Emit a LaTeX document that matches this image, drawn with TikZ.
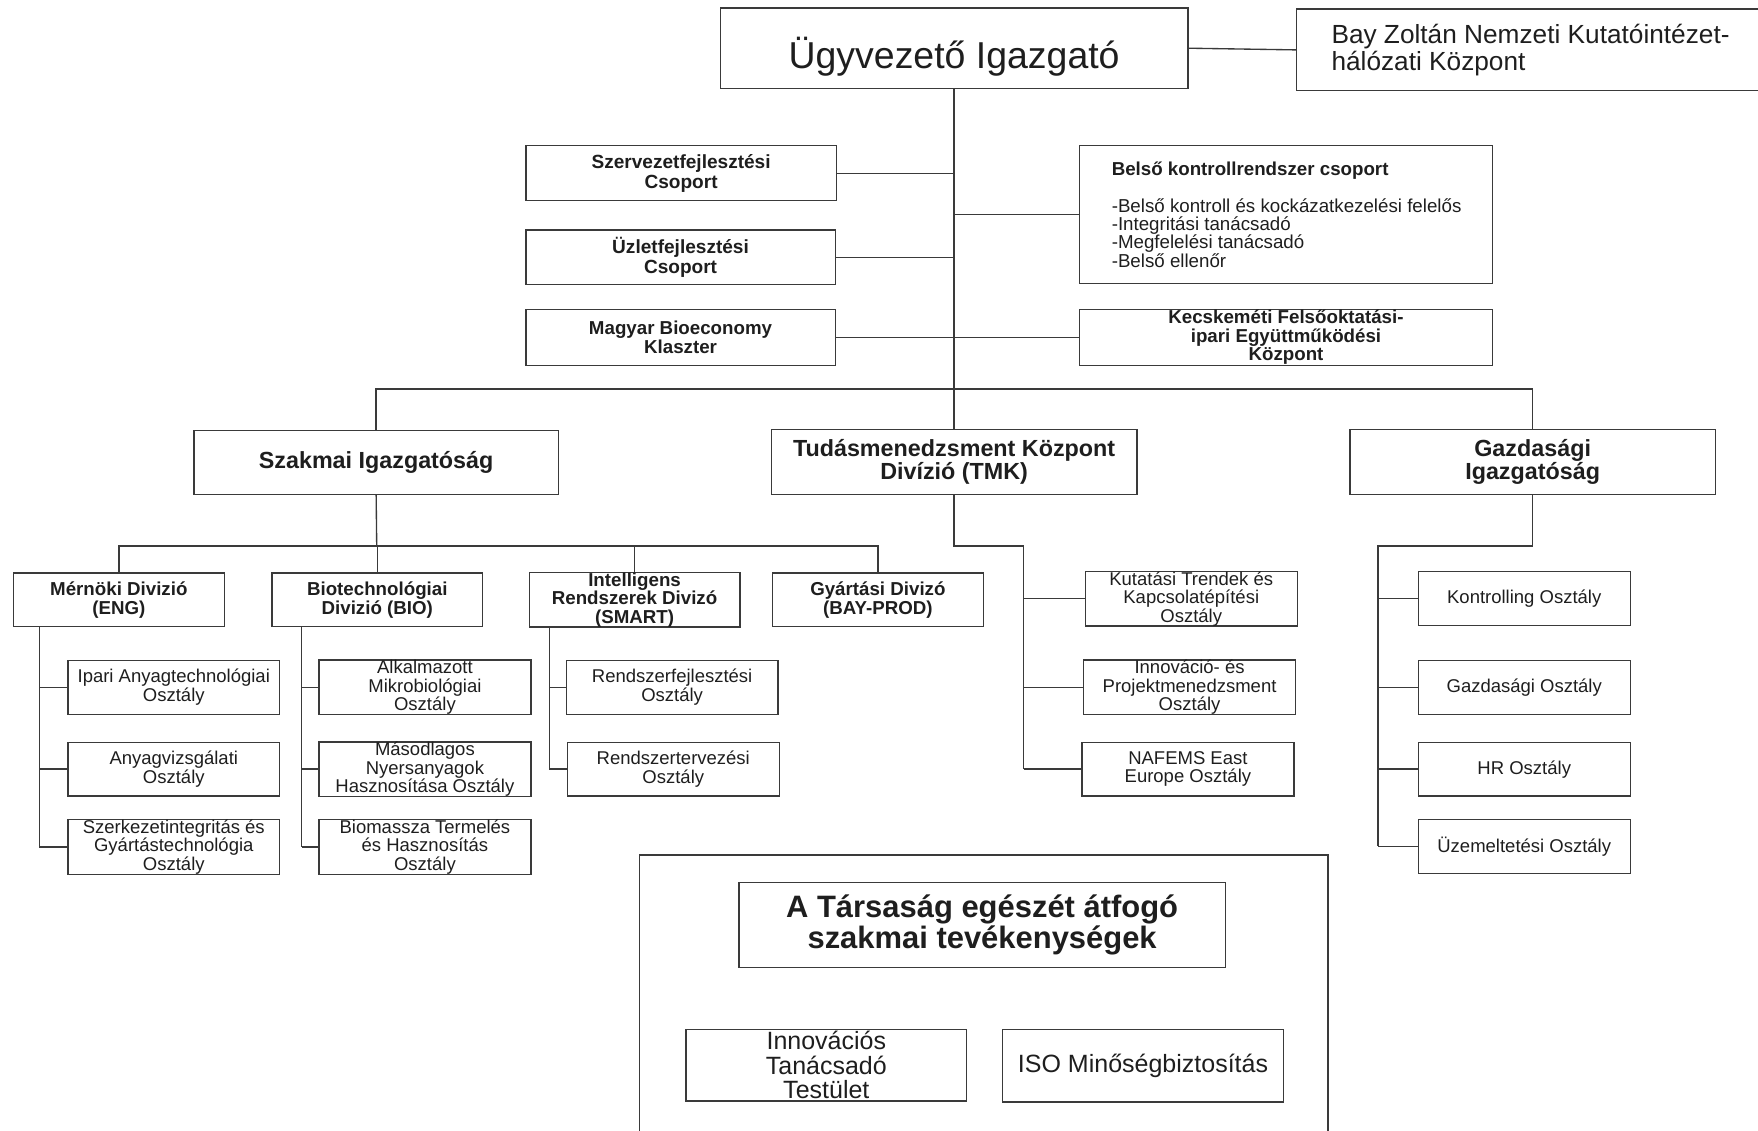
\documentclass[tikz,border=0pt]{standalone}
\usepackage{fontspec}
\setmainfont{Liberation Sans}
\definecolor{linegray}{HTML}{3A3A3A}
\definecolor{textgray}{HTML}{1E1E1E}

\begin{document}
\begin{tikzpicture}
		[x=1pt, y=-1pt, color=linegray, line width=1.2pt,
		every node/.style={text=textgray, inner sep=0pt, align=center},
		box/.style={draw=linegray, line width=1.2pt},
		wh/.style 2 args={minimum width=#1pt, minimum height=#2pt},
		grouptext/.style={font=\fontsize{17}{18}\selectfont\bfseries},
		leveltext/.style={font=\fontsize{20.8}{20}\selectfont\bfseries},
		divtext/.style={font=\fontsize{16.7}{16.8}\selectfont\bfseries},
		depttext/.style={font=\fontsize{16.5}{16.5}\selectfont}
		]
		\useasboundingbox (0,0) rectangle (1568,1008);
		\clip (0,0) rectangle (1568,1008);
		% top
		\node[box, wh={417}{72}, text height=36pt, text depth=0pt, font=\fontsize{33.4}{36}\selectfont] (ceo) at (851,43) {Ügyvezető Igazgató};
		\node[box, wh={470}{73}, anchor=west] (bay) at (1156,44.5) {};
		\node[anchor=west, align=left, font=\fontsize{23.4}{24}\selectfont] (baytext) at (1187,45) {Bay Zoltán Nemzeti Kutatóintézet-\\hálózati Központ};
		\begin{scope}[every node/.append style={box}]
			\node[grouptext, wh={277}{49}] (szerv) at (607.5,154.5) {Szervezetfejlesztési\\Csoport};
			\node[grouptext, wh={276}{49}] (uzlet) at (607,229.5) {Üzletfejlesztési\\Csoport};
			\node[grouptext, wh={276}{50}, font=\fontsize{16.7}{17}\selectfont\bfseries] (magyar) at (607,301) {Magyar Bioeconomy\\Klaszter};
			\node[wh={368}{123}] (belso) at (1147,191.5) {};
			\node[divtext, wh={368}{50}, font=\fontsize{16.7}{16.5}\selectfont\bfseries] (kecs) at (1147,301) {Kecskeméti Felsőoktatási-\\ipari Együttműködési\\Központ};
		\end{scope}
		\node[anchor=west, align=left, font=\fontsize{16.7}{16.3}\selectfont] (belsotext) at (991,191.5)
			{\textbf{Belső kontrollrendszer csoport}\\[16.3pt]
			-Belső kontroll és kockázatkezelési felelős\\
			-Integritási tanácsadó\\
			-Megfelelési tanácsadó\\
			-Belső ellenőr};
		% directorates
		\begin{scope}[every node/.append style={box, leveltext}]
			\node[wh={325}{57}] (szakmai) at (335.5,412.5) {Szakmai Igazgatóság};
			\node[wh={326}{58}] (tmk) at (851,412) {Tudásmenedzsment Központ\\Divízió (TMK)};
			\node[wh={326}{58}] (gazd) at (1367,412) {Gazdasági\\Igazgatóság};
		\end{scope}
		% divisions
		\begin{scope}[every node/.append style={box, divtext, wh={188}{48}}]
			\node (eng) at (106,535) {Mérnöki Divizió\\(ENG)};
			\node (bio) at (336.5,535) {Biotechnológiai\\Divizió (BIO)};
			\node[font=\fontsize{16.7}{16.5}\selectfont\bfseries] (smart) at (566,535) {Intelligens\\Rendszerek Divizó\\(SMART)};
			\node (prod) at (783,535) {Gyártási Divizó\\(BAY-PROD)};
		\end{scope}
		% departments
		\begin{scope}[every node/.append style={box, depttext, wh={189}{48}}]
			\node (eng1) at (155,613) {Ipari Anyagtechnológiai\\Osztály};
			\node (eng2) at (155,686) {Anyagvizsgálati\\Osztály};
			\node[wh={189}{49}] (eng3) at (155,755.5) {Szerkezetintegritás és\\Gyártástechnológia\\Osztály};
			\node (bio1) at (379,613) {Alkalmazott\\Mikrobiológiai\\Osztály};
			\node (bio2) at (379,686) {Másodlagos\\Nyersanyagok\\Hasznosítása Osztály};
			\node[wh={189}{49}] (bio3) at (379,755.5) {Biomassza Termelés\\és Hasznosítás\\Osztály};
			\node (smart1) at (599.5,613) {Rendszerfejlesztési\\Osztály};
			\node (smart2) at (600.5,686) {Rendszertervezési\\Osztály};
			\node (tmk1) at (1062.5,534) {Kutatási Trendek és\\Kapcsolatépítési\\Osztály};
			\node (tmk2) at (1061,613) {Innováció- és\\Projektmenedzsment\\Osztály};
			\node (tmk3) at (1059.5,686) {NAFEMS East\\Europe Osztály};
			\node (gazd1) at (1359.5,534) {Kontrolling Osztály};
			\node (gazd2) at (1359.5,613) {Gazdasági Osztály};
			\node (gazd3) at (1359.5,686) {HR Osztály};
			\node (gazd4) at (1359.5,755) {Üzemeltetési Osztály};
		\end{scope}
		% company-wide activities
		\node[box, wh={614}{320}, anchor=north west] (frame) at (570,762) {};
		\node[box, wh={434}{76}, font=\fontsize{27.6}{28}\selectfont\bfseries] (allcomp) at (876,825) {A Társaság egészét átfogó\\szakmai tevékenységek};
		\node[box, wh={250}{64}, font=\fontsize{22.3}{22}\selectfont] (innov) at (737,950) {Innovációs\\Tanácsadó\\Testület};
		\node[box, wh={251}{65}, font=\fontsize{22.3}{22}\selectfont] (iso) at (1019.5,950.5) {ISO Minőségbiztosítás};
		% connectors
		\coordinate (bus2) at (851,347);
		\coordinate (bus3) at (336,487);
		\coordinate (engbr) at (35,559);
		\coordinate (biobr) at (269,559);
		\coordinate (smartbr) at (490,559);
		\coordinate (tmkbr) at (913,487);
		\coordinate (gazdbr) at (1229,487);
		\draw (ceo.east) -- (bay.west);
		\draw (ceo.south) -- (tmk.north);
		\foreach \x in {szerv, uzlet}
		\draw (\x.east) -- (\x.east -| ceo.south);
		\draw (belso.west) -- (belso.west -| ceo.south);
		\draw (magyar.east) -- (kecs.west);
		\draw (szakmai.north) |- (bus2) -| (gazd.north);
		\draw (szakmai.south) -- (bus3);
		\draw (eng.north) |- (bus3) -| (prod.north);
		\foreach \x in {bio, smart}
		\draw (\x.north) -- (\x.north |- bus3);
		\draw (engbr) -- (engbr |- eng3.west);
		\draw (biobr) -- (biobr |- bio3.west);
		\draw (smartbr) -- (smartbr |- smart2.west);
		\draw (tmk.south) |- (tmkbr) -- (tmkbr |- tmk3.west);
		\draw (gazd.south) |- (gazdbr) -- (gazdbr |- gazd4.west);
		\foreach \x in {eng1, eng2, eng3}
		\draw (\x.west) -- (\x.west -| engbr);
		\foreach \x in {bio1, bio2, bio3}
		\draw (\x.west) -- (\x.west -| biobr);
		\foreach \x in {smart1, smart2}
		\draw (\x.west) -- (\x.west -| smartbr);
		\foreach \x in {tmk1, tmk2, tmk3}
		\draw (\x.west) -- (\x.west -| tmkbr);
		\foreach \x in {gazd1, gazd2, gazd3, gazd4}
		\draw (\x.west) -- (\x.west -| gazdbr);
	\end{tikzpicture}
\end{document}
